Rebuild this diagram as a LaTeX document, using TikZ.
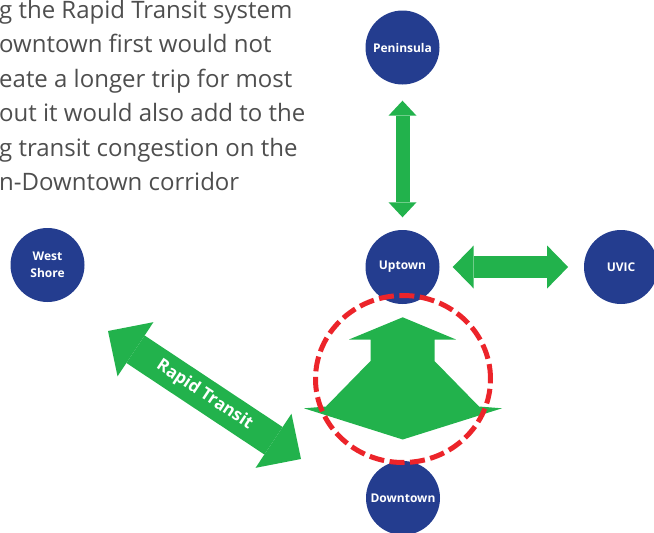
\documentclass[tikz,border=0pt]{standalone}
\usepackage{fontspec}
\setmainfont{Open Sans}
\usetikzlibrary{arrows.meta,positioning}

\definecolor{cityblue}{RGB}{36,61,143}
\definecolor{linkgreen}{RGB}{34,178,76}
\definecolor{ringred}{RGB}{236,36,42}
\definecolor{notegray}{RGB}{78,78,78}

\tikzset{
  city/.style={circle, fill=cityblue, minimum size=74pt, inner sep=0pt, text=white,
    align=center, font=\fontsize{12}{16.5}\selectfont\bfseries},
  link/.style n args={3}{draw=linkgreen, line width=#1,
    {Triangle[length=#3,width=#2,line width=0pt]}-{Triangle[length=#3,width=#2,line width=0pt]}},
  ring/.style={draw=ringred, line width=5pt, dash pattern=on 15pt off 5.5pt}
}

\begin{document}
\begin{tikzpicture}[x=1pt,y=-1pt]
		\useasboundingbox (0,0) rectangle (654,533);
		
		\node[anchor=north west, inner sep=0pt, align=left, text=notegray,
		  font=\fontsize{24}{34.4}\selectfont] (note) at (-1,0) {g the Rapid Transit system\\
		  owntown first would not\\
		  eate a longer trip for most\\
		  out it would also add to the\\
		  g transit congestion on the\\
		  n-Downtown corridor};
		
		\node[city] (pen) at (402.5,47.5) {Peninsula};
		\node[city] (up) at (402.5,267) {Uptown};
		\node[city] (uvic) at (621,267) {UVIC};
		\node[city] (west) at (47.5,265) {West\\Shore};
		\node[city] (down) at (403,498) {Downtown};
		
		\coordinate (rtA) at (108,331);
		\coordinate (rtB) at (301,459);
		
		\draw[link={14pt}{28pt}{15pt}, shorten <=16pt, shorten >=12.5pt] (pen) -- (up);
		\draw[link={22pt}{43pt}{21pt}, shorten <=13pt, shorten >=15.7pt] (up) -- (uvic);
		\draw[link={33pt}{65pt}{33pt}] (rtA) -- node[sloped, text=white, font=\fontsize{17}{20}\selectfont\bfseries] (rt) {Rapid Transit} (rtB);
		
		\fill[linkgreen] (402.7,317.3) -- (456,339.5) -- (434.5,339.5) -- (434.5,361) -- (479,406.5) -- (502,408.3)
		  -- (402.7,439.5) -- (304,408.3) -- (326,406.5) -- (370.5,361) -- (370.5,339.5) -- (349,339.5) -- cycle;
		
		\draw[ring] (403,379) ellipse [x radius=87.5pt, y radius=83.5pt];
		\end{tikzpicture}
\end{document}
